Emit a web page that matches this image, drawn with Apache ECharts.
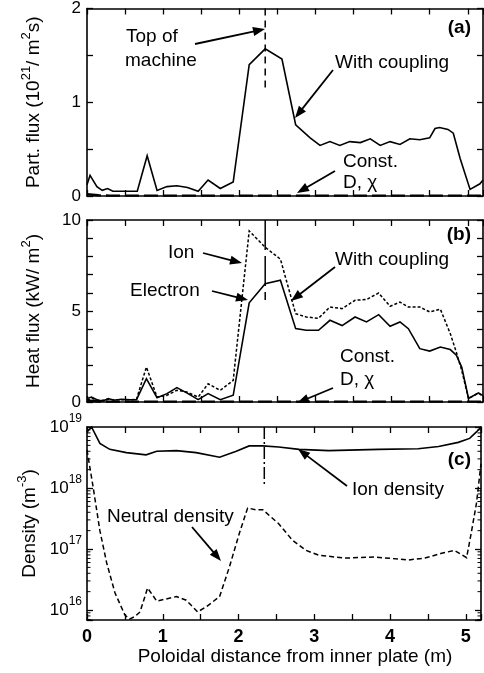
<!DOCTYPE html>
<html><head><meta charset="utf-8">
<script src="https://cdn.jsdelivr.net/npm/echarts@6/dist/echarts.min.js"></script>
<style>html,body{margin:0;padding:0;background:#fff}#c{width:484px;height:673px}</style>
</head><body><div id="c"></div>
<script>
// ---------- data ----------
const xPartFlux = [0, 0.04, 0.13, 0.2, 0.27, 0.34, 0.45, 0.66, 0.79, 0.92, 1.05, 1.18, 1.32, 1.46, 1.59, 1.75, 1.92, 2.13, 2.34, 2.56, 2.74, 2.93, 3.06, 3.19, 3.32, 3.45, 3.59, 3.72, 3.85, 3.98, 4.11, 4.24, 4.37, 4.5, 4.57, 4.63, 4.74, 4.81, 4.9, 5.03, 5.16, 5.2];
const partFluxCoupled = [0.12, 0.22, 0.1, 0.06, 0.08, 0.05, 0.05, 0.05, 0.43, 0.06, 0.1, 0.11, 0.09, 0.05, 0.17, 0.08, 0.15, 1.4, 1.57, 1.46, 0.76, 0.62, 0.54, 0.58, 0.54, 0.58, 0.57, 0.61, 0.54, 0.58, 0.55, 0.61, 0.6, 0.62, 0.72, 0.73, 0.71, 0.67, 0.4, 0.07, 0.13, 0.17];
const xConst = [0, 0.15, 0.3, 5.2];
const partFluxConst = [0.02, 0.008, 0.004, 0.004];
const heatFluxConst = [0.08, 0.03, 0.02, 0.02];
const xHeat = [0, 0.06, 0.15, 0.21, 0.28, 0.35, 0.45, 0.57, 0.65, 0.78, 0.92, 1.05, 1.18, 1.31, 1.46, 1.59, 1.75, 1.92, 2.13, 2.34, 2.54, 2.74, 2.88, 3.04, 3.19, 3.35, 3.52, 3.67, 3.83, 3.98, 4.11, 4.22, 4.37, 4.5, 4.64, 4.77, 4.85, 4.92, 5.01, 5.14, 5.2];
const electronHeat = [0.19, 0.27, 0.09, 0.05, 0.19, 0.1, 0.15, 0.12, 0.13, 1.28, 0.24, 0.46, 0.79, 0.5, 0.13, 0.46, 0.13, 0.37, 5.45, 6.5, 6.69, 4.03, 3.94, 3.94, 4.49, 4.2, 4.67, 4.4, 4.8, 4.16, 4.4, 4.03, 2.93, 2.8, 3.02, 2.88, 2.57, 1.92, 0.19, 0.5, 0.35];
const ionHeat = [0.1, 0.2, 0.1, 0.1, 0.15, 0.12, 0.12, 0.12, 0.15, 1.92, 0.27, 0.37, 0.64, 0.55, 0.27, 1.0, 0.64, 1.19, 9.4, 8.5, 7.85, 4.85, 4.67, 4.6, 5.22, 5.13, 5.59, 5.63, 5.99, 5.26, 5.49, 5.22, 5.22, 4.95, 5.1, 3.76, 2.73, 1.74, 0.19, 0.49, 0.3];
const xIonDens = [0, 0.06, 0.17, 0.3, 0.52, 0.78, 0.92, 1.18, 1.44, 1.75, 1.97, 2.14, 2.32, 2.53, 2.8, 3.19, 3.85, 4.37, 4.64, 4.9, 5.05, 5.14, 5.2];
const ionDensity = [8.3e18, 1e19, 5.4e18, 4.3e18, 3.8e18, 3.5e18, 4.0e18, 4.1e18, 3.8e18, 3.2e18, 4.0e18, 4.9e18, 4.9e18, 4.7e18, 4.3e18, 4.1e18, 4.3e18, 4.4e18, 4.8e18, 5.6e18, 6.5e18, 8.3e18, 1e19];
const xNeutral = [0, 0.08, 0.17, 0.26, 0.37, 0.5, 0.56, 0.63, 0.7, 0.8, 0.92, 1.18, 1.31, 1.46, 1.57, 1.75, 1.88, 2.01, 2.12, 2.23, 2.32, 2.53, 2.71, 2.89, 3.06, 3.41, 3.8, 4.24, 4.46, 4.68, 4.85, 5.01, 5.07, 5.14, 5.2];
const neutralDensity = [4.2e18, 1.05e18, 2.0e17, 5.9e16, 1.9e16, 8.3e15, 7.1e15, 7.8e15, 9.3e15, 2.3e16, 1.4e16, 1.66e16, 1.45e16, 9.3e15, 1.12e16, 1.66e16, 5.1e16, 1.8e17, 4.7e17, 4.4e17, 4.4e17, 2.6e17, 1.4e17, 9.5e16, 7.9e16, 7.1e16, 7.4e16, 6.6e16, 7.1e16, 8.5e16, 9.5e16, 7.2e16, 1.8e17, 5.6e17, 2.5e18];
const topOfMachineX = [2.34, 2.34];
const topMarkA = [2, 1.11];
const topMarkB = [10, 5.6];
const topMarkC = [1e19, 1.05e18];
const logMinorTicks = [7e15, 8e15, 9e15, 2e16, 3e16, 4e16, 5e16, 6e16, 7e16, 8e16, 9e16, 2e17, 3e17, 4e17, 5e17, 6e17, 7e17, 8e17, 9e17, 2e18, 3e18, 4e18, 5e18, 6e18, 7e18, 8e18, 9e18];
const X_MIN = 0, X_MAX = 5.2;

// ---------- helpers ----------
const FONT = '"Liberation Sans", Arial, Helvetica, sans-serif';
const pts = (xs, ys) => xs.map((x, i) => [x, ys[i]]);
const lineW = 1.6;
const axisLine = { show: true, onZero: false, lineStyle: { color: '#000', width: lineW } };
const tick = { show: true, inside: true, length: 6, lineStyle: { color: '#000', width: 1.3 } };

function xAx(gi, pos, labels) {
  return {
    type: 'value', gridIndex: gi, position: pos, min: X_MIN, max: X_MAX, interval: 0.5,
    axisLine, axisTick: tick, splitLine: { show: false },
    axisLabel: labels ? {
      show: true, margin: 8, color: '#000', fontFamily: FONT, fontSize: 18, fontWeight: 'bold',
      formatter: v => (Math.abs(v - Math.round(v)) < 1e-9 ? String(Math.round(v)) : '')
    } : { show: false },
    name: labels ? 'Poloidal distance from inner plate (m)' : '',
    nameLocation: 'middle', nameGap: 22,
    nameTextStyle: { color: '#000', fontFamily: FONT, fontSize: 19, padding: [0, 0, 0, 22] }
  };
}
const nameRich = {
  n: { fontFamily: FONT, fontSize: 19, color: '#000' },
  s: { fontFamily: FONT, fontSize: 13, color: '#000', padding: [0, 0, 14, 0] }
};
function yAx(gi, pos, min, max, interval, labelStep, name) {
  const left = pos === 'left';
  return {
    type: 'value', gridIndex: gi, position: pos, min, max, interval,
    axisLine, axisTick: tick, splitLine: { show: false },
    axisLabel: left ? {
      show: true, margin: 6, color: '#000', fontFamily: FONT, fontSize: 17,
      formatter: v => (Math.abs(v / labelStep - Math.round(v / labelStep)) < 1e-9 ? String(Math.round(v)) : '')
    } : { show: false },
    name: left ? name : '', nameLocation: 'middle', nameRotate: 90, nameGap: 40,
    nameTextStyle: { color: '#000', fontFamily: FONT, fontSize: 19, rich: nameRich }
  };
}
function yLog(gi, pos, name) {
  const left = pos === 'left';
  return {
    type: 'log', logBase: 10, gridIndex: gi, position: pos, min: 6.86e15, max: 1e19,
    axisLine, axisTick: tick, splitLine: { show: false }, minorTick: { show: false },
    axisLabel: left ? {
      show: true, margin: 5, color: '#000', fontFamily: FONT, fontSize: 17,
      formatter: v => {
        const l = Math.log10(v), e = Math.round(l);
        return Math.abs(l - e) > 0.01 ? '' : '{b|10}{s|' + e + '}';
      },
      rich: {
        b: { fontFamily: FONT, fontSize: 17, color: '#000' },
        s: { fontFamily: FONT, fontSize: 12, color: '#000', padding: [0, 0, 16, 0] }
      }
    } : { show: false },
    name: left ? name : '', nameLocation: 'middle', nameRotate: 90, nameGap: 40,
    nameTextStyle: { color: '#000', fontFamily: FONT, fontSize: 19, rich: nameRich }
  };
}
function ln(xi, yi, data, type, width) {
  return {
    type: 'line', xAxisIndex: xi, yAxisIndex: yi, data, symbol: 'none', silent: true,
    lineStyle: { color: '#000', width: width || 1.5, type: type || 'solid', cap: 'butt', join: 'miter' },
    z: 3
  };
}
function arrow(x1, y1, x2, y2) {
  const a = Math.atan2(y2 - y1, x2 - x1), L = 12, W = 4.5;
  const c = Math.cos(a), s = Math.sin(a);
  const bx = x2 - L * c, by = y2 - L * s;
  return [
    { type: 'line', shape: { x1, y1, x2: bx + 1 * c, y2: by + 1 * s }, style: { stroke: '#000', lineWidth: 1.8 } },
    { type: 'polygon', shape: { points: [[x2, y2], [bx - W * s, by + W * c], [bx + W * s, by - W * c]] }, style: { fill: '#000' } }
  ];
}
function txt(text, x, y, opts) {
  opts = opts || {};
  return {
    type: 'text', x, y,
    style: {
      text, fill: '#000',
      font: (opts.bold ? 'bold ' : '') + '19px ' + FONT,
      align: opts.align || 'left', textAlign: opts.align || 'left',
      verticalAlign: 'middle', textVerticalAlign: 'middle'
    }
  };
}

const chart = echarts.init(document.getElementById('c'), null, { renderer: 'canvas' });
chart.setOption({
  animation: false,
  backgroundColor: '#fff',
  grid: [
    { left: 87, right: 1, top: 5, height: 191 },
    { left: 87, right: 1, top: 220, height: 182 },
    { left: 87, right: 1, top: 427, height: 193 }
  ],
  xAxis: [xAx(0, 'bottom', false), xAx(0, 'top', false), xAx(1, 'bottom', false), xAx(1, 'top', false), xAx(2, 'bottom', true), xAx(2, 'top', false)],
  yAxis: [
    yAx(0, 'left', 0, 2, 0.5, 1, '{n|Part. flux (10}{s|21}{n|/ m}{s|2}{n|s)}'),
    yAx(0, 'right', 0, 2, 0.5, 1, ''),
    yAx(1, 'left', 0, 10, 1, 5, '{n|Heat flux (kW/ m}{s|2}{n|)}'),
    yAx(1, 'right', 0, 10, 1, 5, ''),
    yLog(2, 'left', '{n|Density (m}{s|-3}{n|)}'),
    yLog(2, 'right', '')
  ],
  series: [
    ln(0, 0, pts(xPartFlux, partFluxCoupled), 'solid', 1.6),
    ln(0, 0, pts(xConst, partFluxConst), [14, 5], 2.4),
    ln(0, 0, pts(topOfMachineX, topMarkA), [7, 5], 1.5),
    ln(2, 2, pts(xHeat, electronHeat), 'solid', 1.6),
    ln(2, 2, pts(xHeat, ionHeat), [3, 2], 1.5),
    ln(2, 2, pts(xConst, heatFluxConst), [14, 5], 2.4),
    ln(2, 2, pts(topOfMachineX, topMarkB), [30, 6], 1.5),
    ln(4, 4, pts(xIonDens, ionDensity), 'solid', 1.6),
    ln(4, 4, pts(xNeutral, neutralDensity), [5, 3], 1.5),
    ln(4, 4, pts(topOfMachineX, topMarkC), [12, 3, 2, 3], 1.5),
    {
      type: 'custom', xAxisIndex: 4, yAxisIndex: 4, silent: true, clip: false,
      data: logMinorTicks.map(v => [X_MIN, v]),
      renderItem: (params, api) => {
        const v = api.value(1);
        const l = api.coord([X_MIN, v]), r = api.coord([X_MAX, v]);
        return {
          type: 'group', children: [
            { type: 'line', shape: { x1: l[0], y1: l[1], x2: l[0] + 3.5, y2: l[1] }, style: { stroke: '#000', lineWidth: 1 } },
            { type: 'line', shape: { x1: r[0] - 3.5, y1: r[1], x2: r[0], y2: r[1] }, style: { stroke: '#000', lineWidth: 1 } }
          ]
        };
      }
    }
  ],
  graphic: [
    // panel (a)
    txt('Top of', 126, 37), txt('machine', 125, 61),
    ...arrow(195, 44, 265, 29),
    txt('(a)', 471, 28, { bold: true, align: 'right' }),
    txt('With coupling', 335, 63),
    ...arrow(333, 70, 295, 118),
    txt('Const.', 343, 162), txt('D, χ', 343, 183),
    ...arrow(335, 171, 297, 193),
    // panel (b)
    txt('(b)', 471, 235, { bold: true, align: 'right' }),
    txt('Ion', 168, 253),
    ...arrow(203, 253, 242, 263),
    txt('Electron', 130, 291),
    ...arrow(212, 291, 248, 300),
    txt('With coupling', 335, 260),
    ...arrow(335, 267, 291, 301),
    txt('Const.', 340, 357), txt('D, χ', 340, 380),
    ...arrow(333, 388, 297, 403),
    // panel (c)
    txt('(c)', 471, 460, { bold: true, align: 'right' }),
    txt('Ion density', 352, 490),
    ...arrow(347, 486, 298, 449),
    txt('Neutral density', 107, 517),
    ...arrow(192, 527, 221, 561)
  ]
});
</script></body></html>
